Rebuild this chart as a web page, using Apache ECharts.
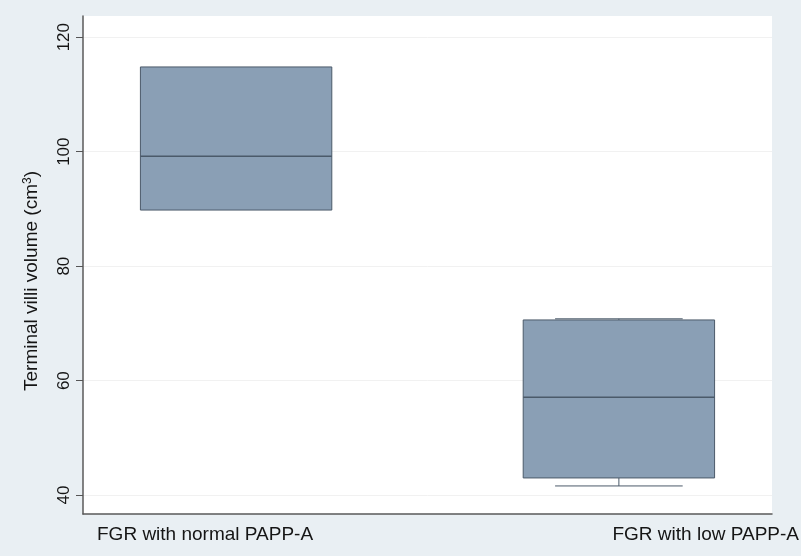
<!DOCTYPE html>
<html>
<head>
<meta charset="utf-8">
<script src="https://cdn.jsdelivr.net/npm/echarts@6/dist/echarts.min.js"></script>
<style>
  html, body { margin: 0; padding: 0; background: #e9eff3; }
  #chart { width: 801px; height: 556px; }
</style>
</head>
<body>
<div id="chart"></div>
<script>
const groups = ['FGR with normal PAPP-A', 'FGR with low PAPP-A']
const positions = [1, 2]
const lowerWhisker = [89.8, 41.6]
const q1 = [89.8, 43.0]
const median = [99.2, 57.1]
const q3 = [114.8, 70.6]
const upperWhisker = [114.8, 70.8]
const yTicks = [40, 60, 80, 100, 120]

const boxData = positions.map((p, i) => [p, lowerWhisker[i], q1[i], median[i], q3[i], upperWhisker[i]])

const font = '"Liberation Sans", Arial, sans-serif'
const dark = '#4b5a6a'

const renderBox = (params, api) => {
  const x = api.value(0)
  const [lo, a, med, b, hi] = [1, 2, 3, 4, 5].map(d => api.value(d))
  const half = api.size([0.5, 0])[0] / 2
  const capHalf = api.size([1 / 3, 0])[0] / 2
  const pt = v => api.coord([x, v])
  const line = (x1, y1, x2, y2, w) => ({
    type: 'line',
    shape: {x1, y1, x2, y2},
    style: {stroke: dark, lineWidth: w || 1}
  })
  const children = []
  const cx = pt(med)[0]
  if (hi > b) {
    children.push(line(cx, pt(hi)[1], cx, pt(b)[1]))
    children.push(line(cx - capHalf, pt(hi)[1], cx + capHalf, pt(hi)[1]))
  }
  if (lo < a) {
    children.push(line(cx, pt(a)[1], cx, pt(lo)[1]))
    children.push(line(cx - capHalf, pt(lo)[1], cx + capHalf, pt(lo)[1]))
  }
  children.push({
    type: 'rect',
    shape: {x: cx - half, y: pt(b)[1], width: half * 2, height: pt(a)[1] - pt(b)[1]},
    style: {fill: '#8a9fb5', stroke: dark, lineWidth: 1}
  })
  children.push(line(cx - half, pt(med)[1], cx + half, pt(med)[1], 1.5))
  return {type: 'group', children}
}

const option = {
  backgroundColor: '#e9eff3',
  animation: false,
  grid: {
    left: 83, right: 29, top: 16, bottom: 42,
    show: true, backgroundColor: '#ffffff', borderWidth: 0
  },
  xAxis: {
    type: 'value',
    min: 0.6,
    max: 2.4,
    axisLine: {show: true, lineStyle: {color: '#5a5a5a', width: 1.5}},
    axisTick: {show: false},
    axisLabel: {show: false},
    splitLine: {show: false}
  },
  yAxis: {
    type: 'value',
    min: 36.7,
    max: 123.7,
    name: '{a|Terminal villi volume (cm}{s|3}{a|)}',
    nameLocation: 'middle',
    nameRotate: 90,
    nameGap: 41,
    nameTextStyle: {
      padding: [0, 32, 0, 0],
      rich: {
        a: {fontFamily: font, fontSize: 19, color: '#151515'},
        s: {fontFamily: font, fontSize: 12, color: '#151515', verticalAlign: 'top', padding: [0, 0, 8, 0]}
      }
    },
    axisLine: {show: true, lineStyle: {color: '#5a5a5a', width: 1.5}},
    axisTick: {show: true, length: 7, customValues: yTicks, lineStyle: {color: '#555'}},
    axisLabel: {
      customValues: yTicks,
      rotate: 90,
      margin: 10,
      fontFamily: font,
      fontSize: 17,
      color: '#151515'
    },
    splitLine: {show: true, lineStyle: {color: '#f1f1f1', width: 1}}
  },
  graphic: [
    {
      type: 'text', left: 97, top: 525,
      style: {text: groups[0], fontFamily: font, fontSize: 19, fill: '#151515'}
    },
    {
      type: 'text', right: 2, top: 525,
      style: {text: groups[1], fontFamily: font, fontSize: 19, fill: '#151515'}
    }
  ],
  series: [{
    type: 'custom',
    renderItem: renderBox,
    encode: {x: 0, y: [1, 2, 3, 4, 5]},
    data: boxData
  }]
}

const chart = echarts.init(document.getElementById('chart'), null, {renderer: 'canvas'})
chart.setOption(option)
</script>
</body>
</html>
